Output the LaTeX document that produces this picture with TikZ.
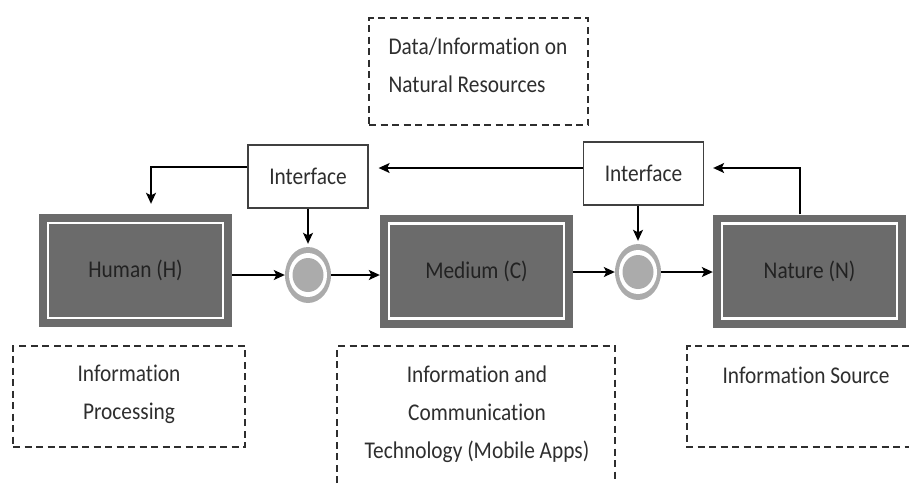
\documentclass[tikz,border=0pt]{standalone}
\usepackage{fontspec}
\setmainfont{Carlito}[FakeStretch=0.89, Ligatures=NoCommon]
\usetikzlibrary{arrows.meta,shapes.geometric,calc}
\definecolor{boxgray}{HTML}{6B6B6B}
\definecolor{ringgray}{HTML}{ABABAB}
\definecolor{ink}{HTML}{2E2E2E}
\definecolor{framegray}{HTML}{404040}
\definecolor{agentink}{HTML}{222222}

\begin{document}
\begin{tikzpicture}[x=1pt,y=-1pt,
  every node/.style={font=\fontsize{24}{38}\selectfont, text=ink},
  agent/.style={fill=boxgray, minimum width=193pt, minimum height=113pt, inner sep=0pt, text=agentink,
    path picture={\draw[white,line width=2.5pt]
      ([shift={(9pt,9pt)}]path picture bounding box.south west) rectangle
      ([shift={(-9pt,-9pt)}]path picture bounding box.north east);}},
  iface/.style={draw=framegray, line width=1.3pt, fill=white, minimum width=120pt,
    minimum height=63pt, inner sep=0pt},
  junction/.style={ellipse, fill=ringgray, minimum width=46pt, minimum height=56pt, inner sep=0pt,
    path picture={
      \fill[white] (path picture bounding box.center) ellipse [x radius=19pt, y radius=22pt];
      \fill[ringgray] (path picture bounding box.center) ellipse [x radius=15.5pt, y radius=17pt];}},
  note/.style={draw=ink, line width=1.6pt, dash pattern=on 7pt off 4.5pt, inner sep=0pt},
  flow/.style={draw=black, line width=1.4pt, -{Stealth[length=11pt,width=10pt,inset=2.5pt]}},
]
\useasboundingbox (0,0) rectangle (909,483);

% agents
\node[agent] (human)  at (135.5,270.5) {Human (H)};
\node[agent] (medium) at (476.5,271)   {Medium (C)};
\node[agent] (nature) at (809.5,271)   {Nature (N)};

% interfaces
\node[iface] (iface1) at (308,176.5) {Interface};
\node[iface] (iface2) at (643.5,173.5) {Interface};

% junctions
\node[junction] (j1) at (308,275) {};
\node[junction] (j2) at (638,272) {};

% annotation boxes
\node[note, minimum width=219pt, minimum height=107pt] (datanote) at (478.5,71.5) {};
\node[anchor=west, align=left] (datatext) at (385,65) {Data/Information on\\Natural Resources};

\node[note, minimum width=232pt, minimum height=101pt] (procnote) at (129,396.5) {};
\node[align=center] (proctext) at (129,394) {Information\\Processing};

\draw[note] (337,483) -- (337,346) -- (615,346) -- (615,483);
\node[align=center] (icttext) at (477,414) {Information and\\Communication\\Technology (Mobile Apps)};

\draw[note] (909,346) -- (687,346) -- (687,447) -- (909,447);
\node (srctext) at (806,375) {Information Source};

% connectors
\coordinate (r1) at (800,168);
\coordinate (l1) at (151,167);
\draw[flow, shorten >=9pt] (nature.north -| r1) -- (r1) -- (iface2.east |- r1);
\draw[flow, shorten >=10pt] (iface2.west |- r1) -- (iface1.east |- r1);
\draw[flow, shorten >=10pt] (iface1.west |- l1) -- (l1) -- (l1 |- human.north);
\draw[flow, shorten >=3pt] (iface1.south) -- (j1.north);
\draw[flow, shorten >=3pt] (iface2.south -| j2) -- (j2.north);
\draw[flow] (human.east |- j1) -- (j1.west);
\draw[flow] (j1.east) -- (medium.west |- j1);
\draw[flow] (medium.east |- j2) -- (j2.west);
\draw[flow] (j2.east) -- (nature.west |- j2);
\end{tikzpicture}
\end{document}
